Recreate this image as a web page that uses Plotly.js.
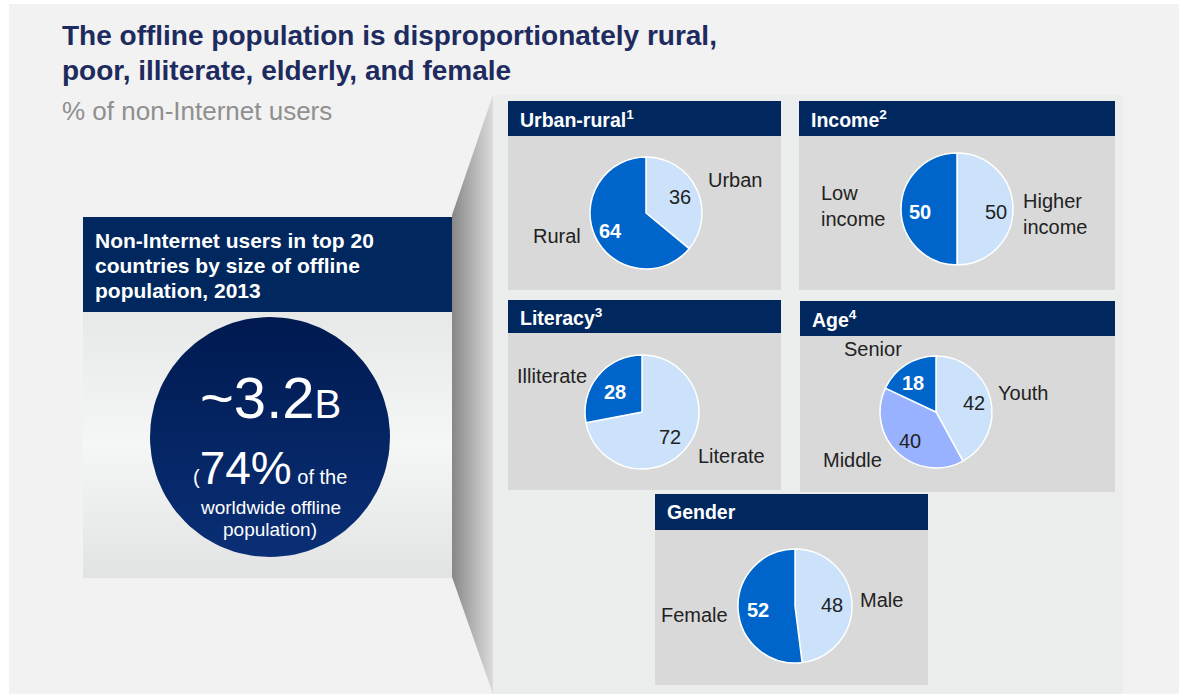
<!DOCTYPE html>
<html>
<head>
<meta charset="utf-8">
<script src="https://cdn.plot.ly/plotly-3.0.1.min.js"></script>
<style>html,body{margin:0;padding:0;background:#fff;}#chart{width:1179px;height:694px;}</style>
</head>
<body>
<div id="chart"></div>
<script>
// ---------------- DATA ----------------
const urbanLabels = ['Urban', 'Rural'];
const urbanValues = [36, 64];
const incomeLabels = ['Higher income', 'Low income'];
const incomeValues = [50, 50];
const literacyLabels = ['Literate', 'Illiterate'];
const literacyValues = [72, 28];
const ageLabels = ['Youth', 'Middle', 'Senior'];
const ageValues = [42, 40, 18];
const genderLabels = ['Male', 'Female'];
const genderValues = [48, 52];
const panelTitles = ['Urban-rural<sup>1</sup>', 'Income<sup>2</sup>', 'Literacy<sup>3</sup>', 'Age<sup>4</sup>', 'Gender'];
const offlineTotal = '~3.2';
const offlineUnit = 'B';
const offlineShare = 74;
const titleLines = ['The offline population is disproportionately rural,', 'poor, illiterate, elderly, and female'];
const subtitle = '% of non-Internet users';
const boxTitle = ['Non-Internet users in top 20', 'countries by size of offline', 'population, 2013'];

// ---------------- STYLE / LAYOUT ----------------
const W = 1179, H = 694;
const NAVY = '#00285f';
const DARK = '#0065cb', LIGHT = '#cbe2fa', MID = '#99b2ff';
const FONT = 'Liberation Sans, Arial, Helvetica, sans-serif';

// per pie: centre/radius, category-label positions, value-label positions (pixels)
const pies = [
  {labels: urbanLabels, values: urbanValues, colors: [LIGHT, DARK], cx: 646, cy: 213, r: 56,
   lab: [[735, 180, 'center'], [557, 236, 'center']], val: [[680, 197], [610, 231]]},
  {labels: incomeLabels, values: incomeValues, colors: [LIGHT, DARK], cx: 957, cy: 209, r: 56,
   lab: [[1021, 214, 'left'], [819, 206, 'left']], val: [[996, 212], [920, 212]]},
  {labels: literacyLabels, values: literacyValues, colors: [LIGHT, DARK], cx: 642, cy: 412, r: 57,
   lab: [[731, 456, 'center'], [552, 376, 'center']], val: [[670, 437], [615, 392]]},
  {labels: ageLabels, values: ageValues, colors: [LIGHT, MID, DARK], cx: 936, cy: 412, r: 56,
   lab: [[1023, 393, 'center'], [852, 460, 'center'], [873, 349, 'center']],
   val: [[974, 403], [910, 441], [913, 383]]},
  {labels: genderLabels, values: genderValues, colors: [LIGHT, DARK], cx: 795, cy: 606, r: 57,
   lab: [[881, 600, 'center'], [694, 615, 'center']], val: [[832, 605], [758, 610]]}
];
const panels = [
  {x0: 508, x1: 781, h0: 101, h1: 136, b1: 290},
  {x0: 799, x1: 1115, h0: 101, h1: 136, b1: 290},
  {x0: 508, x1: 781, h0: 300, h1: 333, b1: 490},
  {x0: 800, x1: 1115, h0: 301, h1: 336, b1: 492},
  {x0: 655, x1: 928, h0: 494, h1: 530, b1: 685}
];

const shapes = [];
const annotations = [];
const traces = [];

function rect(x0, y0, x1, y1, color, layer) {
  shapes.push({type: 'rect', xref: 'x', yref: 'y', x0: x0, x1: x1, y0: y0, y1: y1,
    fillcolor: color, line: {width: 0}, layer: layer || 'below'});
}
function text(x, y, t, size, color, bold, xanchor) {
  annotations.push({xref: 'x', yref: 'y', x: x, y: y, text: t, showarrow: false,
    xanchor: xanchor || 'left', yanchor: 'middle', align: xanchor || 'left',
    font: {family: FONT, size: size, color: color, weight: bold ? 'bold' : 'normal'}});
}

// background panels
rect(9, 4, W, H, '#f2f2f2');
rect(493, 95, 1123, H, '#eceeee');
panels.forEach((p, i) => {
  rect(p.x0, p.h1, p.x1, p.b1, '#d9d9d9');
  rect(p.x0, p.h0, p.x1, p.h1, NAVY);
  text(p.x0 + 10, (p.h0 + p.h1) / 2, '<b>' + panelTitles[i] + '</b>', 19.5, '#ffffff', true);
});
// left box header
rect(83, 217, 452, 312, NAVY);

// gradient left body
traces.push({type: 'scatter', x: [83, 452, 452, 83, 83], y: [312, 312, 578, 578, 312], mode: 'lines',
  line: {width: 0}, fill: 'toself', hoverinfo: 'skip', showlegend: false,
  fillgradient: {type: 'vertical', colorscale: [[0, '#e2e4e4'], [0.5, '#f5f6f6'], [1, '#e7e9e9']]}});
// connector
traces.push({type: 'scatter', x: [452, 493, 493, 452, 452], y: [215, 95, H, 577, 215], mode: 'lines',
  line: {width: 0}, fill: 'toself', hoverinfo: 'skip', showlegend: false,
  fillgradient: {type: 'horizontal', colorscale: [[0, '#878787'], [1, '#dcdcdc']]}});
// circle
const cxs = [], cys = [];
for (let k = 0; k <= 120; k++) {
  const a = k / 120 * 2 * Math.PI;
  cxs.push(270 + 120 * Math.cos(a));
  cys.push(437 + 120 * Math.sin(a));
}
traces.push({type: 'scatter', x: cxs, y: cys, mode: 'lines', line: {width: 0}, fill: 'toself',
  hoverinfo: 'skip', showlegend: false,
  fillgradient: {type: 'vertical', colorscale: [[0, '#0a2f76'], [1, '#001a50']]}});

// pies
pies.forEach(p => {
  traces.push({type: 'pie', labels: p.labels, values: p.values, sort: false, direction: 'clockwise',
    rotation: 0, hole: 0, showlegend: false, hoverinfo: 'skip',
    marker: {colors: p.colors, line: {color: '#ffffff', width: 1.5}},
    textinfo: 'none',
    domain: {x: [(p.cx - p.r) / W, (p.cx + p.r) / W], y: [1 - (p.cy + p.r) / H, 1 - (p.cy - p.r) / H]}});
  p.labels.forEach((l, i) => {
    const L = p.lab[i];
    const t = l.indexOf(' ') > 0 ? l.replace(' ', '<br>') : l;
    text(L[0], L[1], t, 20, '#222222', false, L[2]);
    const V = p.val[i];
    const onDark = p.colors[i] === DARK;
    text(V[0], V[1], onDark ? '<b>' + p.values[i] + '</b>' : String(p.values[i]), 20,
      onDark ? '#ffffff' : '#222222', onDark, 'center');
  });
});

// titles
text(60, 35, titleLines[0], 28, '#1d2b5e', true);
text(60, 70, titleLines[1], 28, '#1d2b5e', true);
text(60, 111, subtitle, 26, '#8f8f8f', false);
boxTitle.forEach((t, i) => text(93, 240 + i * 25, '<b>' + t + '</b>', 21, '#ffffff', true));

// circle texts
text(270, 397, offlineTotal + '<span style="font-size:40px">' + offlineUnit + '</span>', 58, '#ffffff', false, 'center');
text(270, 468, '<span style="font-size:20px">(</span>' + offlineShare + '%<span style="font-size:20px"> of the</span>', 46, '#ffffff', false, 'center');
text(270, 507, 'worldwide offline', 19, '#ffffff', false, 'center');
text(270, 529, 'population)', 19, '#ffffff', false, 'center');

const layout = {
  width: W, height: H, margin: {l: 0, r: 0, t: 0, b: 0}, paper_bgcolor: '#ffffff', plot_bgcolor: 'rgba(0,0,0,0)',
  xaxis: {range: [0, W], visible: false, fixedrange: true},
  yaxis: {range: [H, 0], visible: false, fixedrange: true},
  shapes: shapes, annotations: annotations, showlegend: false,
  font: {family: FONT}
};
Plotly.newPlot('chart', traces, layout, {displayModeBar: false, staticPlot: true});
</script>
</body>
</html>
